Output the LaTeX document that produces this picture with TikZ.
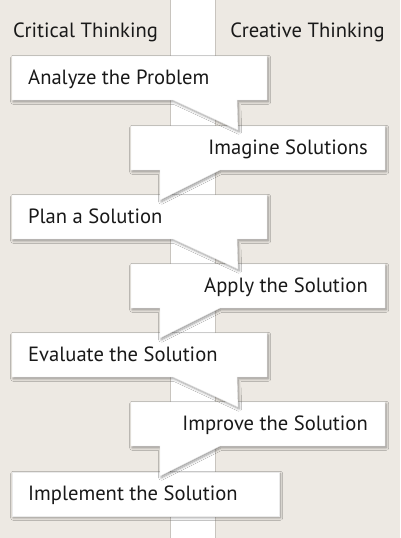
\documentclass[tikz,border=0pt]{standalone}
\usepackage{fontspec}
\setmainfont{PT Sans}
\usetikzlibrary{shadows.blur}
\definecolor{bg}{RGB}{237,233,227}
\definecolor{stripline}{RGB}{200,196,190}
\tikzset{
  callout/.style={fill=white, draw=black!8, line width=0.4pt,
    blur shadow={shadow xshift=1.2pt, shadow yshift=-1.8pt, shadow blur steps=6, shadow blur radius=2.5pt, shadow opacity=40}},
  boxfont/.style={inner sep=0pt, font=\fontsize{20.6}{24}\selectfont, text=black!90},
  lefttext/.style={boxfont, anchor=base west},
  righttext/.style={boxfont, anchor=base east}
}
\begin{document}
\begin{tikzpicture}[x=1pt,y=-1pt]
\useasboundingbox (0,0) rectangle (400,538);
\fill[bg] (0,0) rectangle (400,538);
\fill[white] (170,0) rectangle (215,538);
\draw[stripline, line width=0.6pt] (170,0) -- (170,538) (215,0) -- (215,538);
% headers
\node[lefttext] (hcrit) at (13,37) {Critical Thinking};
\node[righttext] (hcrea) at (385,37) {Creative Thinking};
% boxes drawn bottom-up so that tails lie over the next box
% box 7
\path[callout] (12,472) -- (279,472) -- (279,516) -- (12,516) -- cycle;
% box 6 (right)
\path[callout] (131,402) -- (385,402) -- (385,446) -- (220,446) -- (160,476) -- (160,446) -- (131,446) -- cycle;
% box 5 (left)
\path[callout] (12,333) -- (267,333) -- (267,377) -- (237,377) -- (238,407) -- (173,377) -- (12,377) -- cycle;
% box 4 (right)
\path[callout] (131,264) -- (385,264) -- (385,308) -- (220,308) -- (160,338) -- (160,308) -- (131,308) -- cycle;
% box 3 (left)
\path[callout] (12,195) -- (267,195) -- (267,239) -- (237,239) -- (238,269) -- (173,239) -- (12,239) -- cycle;
% box 2 (right)
\path[callout] (131,126) -- (385,126) -- (385,170) -- (220,170) -- (160,200) -- (160,170) -- (131,170) -- cycle;
% box 1 (left)
\path[callout] (12,56) -- (267,56) -- (267,100) -- (237,100) -- (238,130) -- (173,100) -- (12,100) -- cycle;
% texts
\node[lefttext] (s1) at (28,84) {Analyze the Problem};
\node[righttext] (s2) at (368,154) {Imagine Solutions};
\node[lefttext] (s3) at (28,223) {Plan a Solution};
\node[righttext] (s4) at (368,292) {Apply the Solution};
\node[lefttext] (s5) at (28,361) {Evaluate the Solution};
\node[righttext] (s6) at (368,430) {Improve the Solution};
\node[lefttext] (s7) at (28,500) {Implement the Solution};
\end{tikzpicture}
\end{document}
